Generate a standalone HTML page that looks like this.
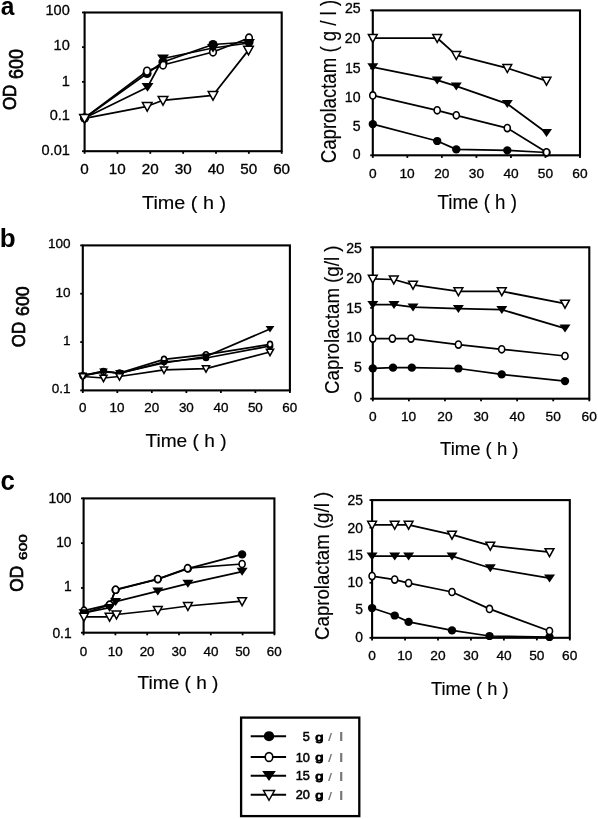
<!DOCTYPE html><html><head><meta charset="utf-8"><title>figure</title><style>html,body{margin:0;padding:0;background:#fff;overflow:hidden}svg{display:block;will-change:transform;filter:blur(0.35px)}text{font-family:"Liberation Sans",sans-serif;}</style></head><body>
<svg width="598" height="819" viewBox="0 0 598 819">
<rect width="598" height="819" fill="#fff"/>
<text transform="translate(0.78,14.85) scale(0.9546,1)" font-size="25.74" font-weight="bold" fill="#000">a</text>
<text transform="translate(-0.21,247.35) scale(0.9996,1)" font-size="26.01" font-weight="bold" fill="#000">b</text>
<text transform="translate(0.49,490.04) scale(0.9562,1)" font-size="27.01" font-weight="bold" fill="#000">c</text>
<rect x="84.60" y="12.50" width="197.10" height="138.70" fill="none" stroke="#000" stroke-width="2.1"/>
<line x1="84.60" y1="151.20" x2="84.60" y2="153.80" stroke="#000" stroke-width="1.8"/>
<text transform="translate(80.36,174.36) scale(1.0800,1)" font-size="14.12" fill="#000" stroke="#000" stroke-width="0.30">0</text>
<line x1="117.45" y1="151.20" x2="117.45" y2="153.80" stroke="#000" stroke-width="1.8"/>
<text transform="translate(108.68,174.36) scale(1.0800,1)" font-size="14.12" fill="#000" stroke="#000" stroke-width="0.30">10</text>
<line x1="150.30" y1="151.20" x2="150.30" y2="153.80" stroke="#000" stroke-width="1.8"/>
<text transform="translate(141.73,174.36) scale(1.0800,1)" font-size="14.12" fill="#000" stroke="#000" stroke-width="0.30">20</text>
<line x1="183.15" y1="151.20" x2="183.15" y2="153.80" stroke="#000" stroke-width="1.8"/>
<text transform="translate(174.67,174.36) scale(1.0800,1)" font-size="14.12" fill="#000" stroke="#000" stroke-width="0.30">30</text>
<line x1="216.00" y1="151.20" x2="216.00" y2="153.80" stroke="#000" stroke-width="1.8"/>
<text transform="translate(207.64,174.36) scale(1.0800,1)" font-size="14.12" fill="#000" stroke="#000" stroke-width="0.30">40</text>
<line x1="248.85" y1="151.20" x2="248.85" y2="153.80" stroke="#000" stroke-width="1.8"/>
<text transform="translate(240.36,174.36) scale(1.0800,1)" font-size="14.12" fill="#000" stroke="#000" stroke-width="0.30">50</text>
<line x1="281.70" y1="151.20" x2="281.70" y2="153.80" stroke="#000" stroke-width="1.8"/>
<text transform="translate(273.13,174.36) scale(1.0800,1)" font-size="14.12" fill="#000" stroke="#000" stroke-width="0.30">60</text>
<line x1="82.00" y1="12.50" x2="84.60" y2="12.50" stroke="#000" stroke-width="1.8"/>
<line x1="82.00" y1="47.17" x2="84.60" y2="47.17" stroke="#000" stroke-width="1.8"/>
<line x1="82.00" y1="81.85" x2="84.60" y2="81.85" stroke="#000" stroke-width="1.8"/>
<line x1="82.00" y1="116.52" x2="84.60" y2="116.52" stroke="#000" stroke-width="1.8"/>
<line x1="82.00" y1="151.20" x2="84.60" y2="151.20" stroke="#000" stroke-width="1.8"/>
<text transform="translate(45.50,14.86) scale(1.0000,1)" font-size="14.55" fill="#000" stroke="#000" stroke-width="0.30">100</text>
<text transform="translate(53.59,49.71) scale(1.0000,1)" font-size="14.55" fill="#000" stroke="#000" stroke-width="0.30">10</text>
<text transform="translate(61.82,86.30) scale(1.0000,1)" font-size="14.55" fill="#000" stroke="#000" stroke-width="0.30">1</text>
<text transform="translate(49.69,119.81) scale(1.0000,1)" font-size="14.55" fill="#000" stroke="#000" stroke-width="0.30">0.1</text>
<text transform="translate(41.60,155.21) scale(1.0000,1)" font-size="14.55" fill="#000" stroke="#000" stroke-width="0.30">0.01</text>
<text transform="translate(142.05,208.90) scale(1.0907,1)" font-size="18.17" font-weight="normal" fill="#000" stroke="#000" stroke-width="0.14">Time ( h )</text>
<text transform="translate(15.60,110.11) rotate(-90) scale(0.9428,1)" font-size="18.05" stroke="#000" stroke-width="0.70">OD</text>
<text transform="translate(22.90,78.91) rotate(-90) scale(0.9172,1)" font-size="19.48" stroke="#000" stroke-width="0.70">600</text>
<path d="M84.6,118.0 L147.0,73.5 L163.0,62.0 L213.0,44.5 L249.0,42.0" fill="none" stroke="#000" stroke-width="1.75" stroke-linejoin="round"/>
<ellipse cx="84.6" cy="118.0" rx="4.60" ry="4.48" fill="#000"/>
<ellipse cx="147.0" cy="73.5" rx="4.60" ry="4.48" fill="#000"/>
<ellipse cx="163.0" cy="62.0" rx="4.60" ry="4.48" fill="#000"/>
<ellipse cx="213.0" cy="44.5" rx="4.60" ry="4.48" fill="#000"/>
<ellipse cx="249.0" cy="42.0" rx="4.60" ry="4.48" fill="#000"/>
<path d="M84.6,118.0 L147.0,71.1 L163.0,65.0 L213.0,52.0 L249.0,38.0" fill="none" stroke="#000" stroke-width="1.75" stroke-linejoin="round"/>
<ellipse cx="84.6" cy="118.0" rx="3.33" ry="3.91" fill="#fff" stroke="#000" stroke-width="1.6"/>
<ellipse cx="147.0" cy="71.1" rx="3.33" ry="3.91" fill="#fff" stroke="#000" stroke-width="1.6"/>
<ellipse cx="163.0" cy="65.0" rx="3.33" ry="3.91" fill="#fff" stroke="#000" stroke-width="1.6"/>
<ellipse cx="213.0" cy="52.0" rx="3.33" ry="3.91" fill="#fff" stroke="#000" stroke-width="1.6"/>
<ellipse cx="249.0" cy="38.0" rx="3.33" ry="3.91" fill="#fff" stroke="#000" stroke-width="1.6"/>
<path d="M84.6,118.0 L147.5,87.2 L163.0,58.5 L213.0,48.0 L249.0,43.0" fill="none" stroke="#000" stroke-width="1.75" stroke-linejoin="round"/>
<path d="M78.6,113.9H90.6L84.6,122.6Z" fill="#000"/>
<path d="M141.5,83.1H153.5L147.5,91.8Z" fill="#000"/>
<path d="M157.0,54.4H169.0L163.0,63.1Z" fill="#000"/>
<path d="M207.0,43.9H219.0L213.0,52.6Z" fill="#000"/>
<path d="M243.0,38.9H255.0L249.0,47.6Z" fill="#000"/>
<path d="M84.6,118.3 L147.2,106.3 L163.0,100.3 L213.0,95.3 L248.5,50.1" fill="none" stroke="#000" stroke-width="1.75" stroke-linejoin="round"/>
<path d="M79.8,114.5H89.4L84.6,123.1Z" fill="#fff" stroke="#000" stroke-width="1.5" stroke-linejoin="miter"/>
<path d="M142.4,102.5H152.0L147.2,111.1Z" fill="#fff" stroke="#000" stroke-width="1.5" stroke-linejoin="miter"/>
<path d="M158.2,96.5H167.8L163.0,105.1Z" fill="#fff" stroke="#000" stroke-width="1.5" stroke-linejoin="miter"/>
<path d="M208.2,91.5H217.8L213.0,100.1Z" fill="#fff" stroke="#000" stroke-width="1.5" stroke-linejoin="miter"/>
<path d="M243.7,46.3H253.3L248.5,54.9Z" fill="#fff" stroke="#000" stroke-width="1.5" stroke-linejoin="miter"/>
<rect x="372.80" y="10.40" width="207.20" height="144.90" fill="none" stroke="#000" stroke-width="2.1"/>
<line x1="372.80" y1="155.30" x2="372.80" y2="157.90" stroke="#000" stroke-width="1.8"/>
<text transform="translate(368.98,178.48) scale(1.0800,1)" font-size="12.71" fill="#000" stroke="#000" stroke-width="0.30">0</text>
<line x1="407.33" y1="155.30" x2="407.33" y2="157.90" stroke="#000" stroke-width="1.8"/>
<text transform="translate(399.44,178.48) scale(1.0800,1)" font-size="12.71" fill="#000" stroke="#000" stroke-width="0.30">10</text>
<line x1="441.87" y1="155.30" x2="441.87" y2="157.90" stroke="#000" stroke-width="1.8"/>
<text transform="translate(434.15,178.48) scale(1.0800,1)" font-size="12.71" fill="#000" stroke="#000" stroke-width="0.30">20</text>
<line x1="476.40" y1="155.30" x2="476.40" y2="157.90" stroke="#000" stroke-width="1.8"/>
<text transform="translate(468.77,178.48) scale(1.0800,1)" font-size="12.71" fill="#000" stroke="#000" stroke-width="0.30">30</text>
<line x1="510.93" y1="155.30" x2="510.93" y2="157.90" stroke="#000" stroke-width="1.8"/>
<text transform="translate(503.41,178.48) scale(1.0800,1)" font-size="12.71" fill="#000" stroke="#000" stroke-width="0.30">40</text>
<line x1="545.47" y1="155.30" x2="545.47" y2="157.90" stroke="#000" stroke-width="1.8"/>
<text transform="translate(537.82,178.48) scale(1.0800,1)" font-size="12.71" fill="#000" stroke="#000" stroke-width="0.30">50</text>
<line x1="580.00" y1="155.30" x2="580.00" y2="157.90" stroke="#000" stroke-width="1.8"/>
<text transform="translate(572.28,178.48) scale(1.0800,1)" font-size="12.71" fill="#000" stroke="#000" stroke-width="0.30">60</text>
<line x1="370.20" y1="155.30" x2="372.80" y2="155.30" stroke="#000" stroke-width="1.8"/>
<line x1="370.20" y1="126.32" x2="372.80" y2="126.32" stroke="#000" stroke-width="1.8"/>
<line x1="370.20" y1="97.34" x2="372.80" y2="97.34" stroke="#000" stroke-width="1.8"/>
<line x1="370.20" y1="68.36" x2="372.80" y2="68.36" stroke="#000" stroke-width="1.8"/>
<line x1="370.20" y1="39.38" x2="372.80" y2="39.38" stroke="#000" stroke-width="1.8"/>
<line x1="370.20" y1="10.40" x2="372.80" y2="10.40" stroke="#000" stroke-width="1.8"/>
<text transform="translate(352.70,159.06) scale(1.0000,1)" font-size="14.12" fill="#000" stroke="#000" stroke-width="0.30">0</text>
<text transform="translate(352.74,131.09) scale(1.0000,1)" font-size="14.12" fill="#000" stroke="#000" stroke-width="0.30">5</text>
<text transform="translate(344.84,101.86) scale(1.0000,1)" font-size="14.12" fill="#000" stroke="#000" stroke-width="0.30">10</text>
<text transform="translate(344.88,72.59) scale(1.0000,1)" font-size="14.12" fill="#000" stroke="#000" stroke-width="0.30">15</text>
<text transform="translate(344.84,43.36) scale(1.0000,1)" font-size="14.12" fill="#000" stroke="#000" stroke-width="0.30">20</text>
<text transform="translate(344.88,13.16) scale(1.0000,1)" font-size="14.12" fill="#000" stroke="#000" stroke-width="0.30">25</text>
<text transform="translate(437.58,209.00) scale(0.9540,1)" font-size="19.62" font-weight="normal" fill="#000" stroke="#000" stroke-width="0.16">Time ( h )</text>
<text transform="translate(336.30,163.25) rotate(-90) scale(0.8780,1)" font-size="21.20" stroke="#000" stroke-width="0.15">Caprolactam ( g / l )</text>
<path d="M372.8,124.1 L437.2,141.0 L456.3,149.4 L507.3,150.3 L546.5,152.5" fill="none" stroke="#000" stroke-width="1.75" stroke-linejoin="round"/>
<ellipse cx="372.8" cy="124.1" rx="4.20" ry="4.09" fill="#000"/>
<ellipse cx="437.2" cy="141.0" rx="4.20" ry="4.09" fill="#000"/>
<ellipse cx="456.3" cy="149.4" rx="4.20" ry="4.09" fill="#000"/>
<ellipse cx="507.3" cy="150.3" rx="4.20" ry="4.09" fill="#000"/>
<ellipse cx="546.5" cy="152.5" rx="4.20" ry="4.09" fill="#000"/>
<path d="M372.8,95.4 L437.2,110.3 L456.3,115.3 L507.3,128.1 L546.5,152.3" fill="none" stroke="#000" stroke-width="1.75" stroke-linejoin="round"/>
<ellipse cx="372.8" cy="95.4" rx="3.04" ry="3.57" fill="#fff" stroke="#000" stroke-width="1.6"/>
<ellipse cx="437.2" cy="110.3" rx="3.04" ry="3.57" fill="#fff" stroke="#000" stroke-width="1.6"/>
<ellipse cx="456.3" cy="115.3" rx="3.04" ry="3.57" fill="#fff" stroke="#000" stroke-width="1.6"/>
<ellipse cx="507.3" cy="128.1" rx="3.04" ry="3.57" fill="#fff" stroke="#000" stroke-width="1.6"/>
<ellipse cx="546.5" cy="152.3" rx="3.04" ry="3.57" fill="#fff" stroke="#000" stroke-width="1.6"/>
<path d="M372.8,67.1 L437.2,80.2 L456.3,86.2 L507.3,103.9 L546.5,132.7" fill="none" stroke="#000" stroke-width="1.75" stroke-linejoin="round"/>
<path d="M367.3,63.3H378.3L372.8,71.3Z" fill="#000"/>
<path d="M431.7,76.4H442.7L437.2,84.4Z" fill="#000"/>
<path d="M450.8,82.4H461.8L456.3,90.4Z" fill="#000"/>
<path d="M501.8,100.1H512.8L507.3,108.1Z" fill="#000"/>
<path d="M541.0,128.9H552.0L546.5,136.9Z" fill="#000"/>
<path d="M372.8,38.0 L437.2,38.0 L456.3,55.1 L507.3,68.1 L546.5,80.8" fill="none" stroke="#000" stroke-width="1.75" stroke-linejoin="round"/>
<path d="M368.4,34.5H377.2L372.8,42.4Z" fill="#fff" stroke="#000" stroke-width="1.5" stroke-linejoin="miter"/>
<path d="M432.8,34.5H441.6L437.2,42.4Z" fill="#fff" stroke="#000" stroke-width="1.5" stroke-linejoin="miter"/>
<path d="M451.9,51.6H460.7L456.3,59.5Z" fill="#fff" stroke="#000" stroke-width="1.5" stroke-linejoin="miter"/>
<path d="M502.9,64.6H511.7L507.3,72.5Z" fill="#fff" stroke="#000" stroke-width="1.5" stroke-linejoin="miter"/>
<path d="M542.1,77.3H550.9L546.5,85.2Z" fill="#fff" stroke="#000" stroke-width="1.5" stroke-linejoin="miter"/>
<rect x="82.80" y="245.40" width="207.10" height="145.00" fill="none" stroke="#000" stroke-width="2.1"/>
<line x1="82.80" y1="390.40" x2="82.80" y2="393.00" stroke="#000" stroke-width="1.8"/>
<text transform="translate(79.07,411.68) scale(1.0800,1)" font-size="12.43" fill="#000" stroke="#000" stroke-width="0.30">0</text>
<line x1="117.32" y1="390.40" x2="117.32" y2="393.00" stroke="#000" stroke-width="1.8"/>
<text transform="translate(109.60,411.68) scale(1.0800,1)" font-size="12.43" fill="#000" stroke="#000" stroke-width="0.30">10</text>
<line x1="151.83" y1="390.40" x2="151.83" y2="393.00" stroke="#000" stroke-width="1.8"/>
<text transform="translate(144.29,411.68) scale(1.0800,1)" font-size="12.43" fill="#000" stroke="#000" stroke-width="0.30">20</text>
<line x1="186.35" y1="390.40" x2="186.35" y2="393.00" stroke="#000" stroke-width="1.8"/>
<text transform="translate(178.89,411.68) scale(1.0800,1)" font-size="12.43" fill="#000" stroke="#000" stroke-width="0.30">30</text>
<line x1="220.87" y1="390.40" x2="220.87" y2="393.00" stroke="#000" stroke-width="1.8"/>
<text transform="translate(213.51,411.68) scale(1.0800,1)" font-size="12.43" fill="#000" stroke="#000" stroke-width="0.30">40</text>
<line x1="255.38" y1="390.40" x2="255.38" y2="393.00" stroke="#000" stroke-width="1.8"/>
<text transform="translate(247.91,411.68) scale(1.0800,1)" font-size="12.43" fill="#000" stroke="#000" stroke-width="0.30">50</text>
<line x1="289.90" y1="390.40" x2="289.90" y2="393.00" stroke="#000" stroke-width="1.8"/>
<text transform="translate(282.36,411.68) scale(1.0800,1)" font-size="12.43" fill="#000" stroke="#000" stroke-width="0.30">60</text>
<line x1="80.20" y1="245.40" x2="82.80" y2="245.40" stroke="#000" stroke-width="1.8"/>
<line x1="80.20" y1="293.73" x2="82.80" y2="293.73" stroke="#000" stroke-width="1.8"/>
<line x1="80.20" y1="342.07" x2="82.80" y2="342.07" stroke="#000" stroke-width="1.8"/>
<line x1="80.20" y1="390.40" x2="82.80" y2="390.40" stroke="#000" stroke-width="1.8"/>
<text transform="translate(47.91,248.07) scale(1.0000,1)" font-size="13.56" fill="#000" stroke="#000" stroke-width="0.30">100</text>
<text transform="translate(55.45,296.57) scale(1.0000,1)" font-size="13.56" fill="#000" stroke="#000" stroke-width="0.30">10</text>
<text transform="translate(63.12,345.16) scale(1.0000,1)" font-size="13.56" fill="#000" stroke="#000" stroke-width="0.30">1</text>
<text transform="translate(51.81,393.07) scale(1.0000,1)" font-size="13.56" fill="#000" stroke="#000" stroke-width="0.30">0.1</text>
<text transform="translate(145.47,446.80) scale(1.0200,1)" font-size="18.75" font-weight="normal" fill="#000" stroke="#000" stroke-width="0.15">Time ( h )</text>
<text transform="translate(25.30,347.20) rotate(-90) scale(0.8857,1)" font-size="19.05" stroke="#000" stroke-width="0.70">OD</text>
<text transform="translate(29.20,316.00) rotate(-90) scale(0.9275,1)" font-size="19.19" stroke="#000" stroke-width="0.70">600</text>
<path d="M82.8,375.7 L103.5,371.0 L119.5,373.3 L164.0,362.0 L206.0,358.0 L270.0,346.0" fill="none" stroke="#000" stroke-width="1.75" stroke-linejoin="round"/>
<ellipse cx="82.8" cy="375.7" rx="3.40" ry="3.31" fill="#000"/>
<ellipse cx="103.5" cy="371.0" rx="3.40" ry="3.31" fill="#000"/>
<ellipse cx="119.5" cy="373.3" rx="3.40" ry="3.31" fill="#000"/>
<ellipse cx="164.0" cy="362.0" rx="3.40" ry="3.31" fill="#000"/>
<ellipse cx="206.0" cy="358.0" rx="3.40" ry="3.31" fill="#000"/>
<ellipse cx="270.0" cy="346.0" rx="3.40" ry="3.31" fill="#000"/>
<path d="M82.8,375.7 L103.5,372.0 L119.5,373.0 L164.0,359.3 L206.0,354.6 L270.0,344.3" fill="none" stroke="#000" stroke-width="1.75" stroke-linejoin="round"/>
<ellipse cx="82.8" cy="375.7" rx="2.46" ry="2.89" fill="#fff" stroke="#000" stroke-width="1.6"/>
<ellipse cx="103.5" cy="372.0" rx="2.46" ry="2.89" fill="#fff" stroke="#000" stroke-width="1.6"/>
<ellipse cx="119.5" cy="373.0" rx="2.46" ry="2.89" fill="#fff" stroke="#000" stroke-width="1.6"/>
<ellipse cx="164.0" cy="359.3" rx="2.46" ry="2.89" fill="#fff" stroke="#000" stroke-width="1.6"/>
<ellipse cx="206.0" cy="354.6" rx="2.46" ry="2.89" fill="#fff" stroke="#000" stroke-width="1.6"/>
<ellipse cx="270.0" cy="344.3" rx="2.46" ry="2.89" fill="#fff" stroke="#000" stroke-width="1.6"/>
<path d="M82.8,375.7 L103.5,371.5 L119.5,373.0 L164.0,363.0 L206.0,356.5 L270.0,329.0" fill="none" stroke="#000" stroke-width="1.75" stroke-linejoin="round"/>
<path d="M78.4,372.6H87.2L82.8,379.1Z" fill="#000"/>
<path d="M99.1,368.4H107.9L103.5,374.9Z" fill="#000"/>
<path d="M115.1,369.9H123.9L119.5,376.4Z" fill="#000"/>
<path d="M159.6,359.9H168.4L164.0,366.4Z" fill="#000"/>
<path d="M201.6,353.4H210.4L206.0,359.9Z" fill="#000"/>
<path d="M265.6,325.9H274.4L270.0,332.4Z" fill="#000"/>
<path d="M82.8,376.5 L103.5,378.0 L119.5,376.5 L164.0,369.8 L206.0,368.6 L270.0,352.0" fill="none" stroke="#000" stroke-width="1.75" stroke-linejoin="round"/>
<path d="M79.2,373.7H86.4L82.8,380.1Z" fill="#fff" stroke="#000" stroke-width="1.5" stroke-linejoin="miter"/>
<path d="M99.9,375.2H107.1L103.5,381.6Z" fill="#fff" stroke="#000" stroke-width="1.5" stroke-linejoin="miter"/>
<path d="M115.9,373.7H123.1L119.5,380.1Z" fill="#fff" stroke="#000" stroke-width="1.5" stroke-linejoin="miter"/>
<path d="M160.4,367.0H167.6L164.0,373.4Z" fill="#fff" stroke="#000" stroke-width="1.5" stroke-linejoin="miter"/>
<path d="M202.4,365.8H209.6L206.0,372.2Z" fill="#fff" stroke="#000" stroke-width="1.5" stroke-linejoin="miter"/>
<path d="M266.4,349.2H273.6L270.0,355.6Z" fill="#fff" stroke="#000" stroke-width="1.5" stroke-linejoin="miter"/>
<rect x="372.80" y="247.30" width="216.50" height="151.40" fill="none" stroke="#000" stroke-width="2.1"/>
<line x1="372.80" y1="398.70" x2="372.80" y2="401.30" stroke="#000" stroke-width="1.8"/>
<text transform="translate(368.98,421.48) scale(1.0800,1)" font-size="12.71" fill="#000" stroke="#000" stroke-width="0.30">0</text>
<line x1="408.88" y1="398.70" x2="408.88" y2="401.30" stroke="#000" stroke-width="1.8"/>
<text transform="translate(400.99,421.48) scale(1.0800,1)" font-size="12.71" fill="#000" stroke="#000" stroke-width="0.30">10</text>
<line x1="444.97" y1="398.70" x2="444.97" y2="401.30" stroke="#000" stroke-width="1.8"/>
<text transform="translate(437.25,421.48) scale(1.0800,1)" font-size="12.71" fill="#000" stroke="#000" stroke-width="0.30">20</text>
<line x1="481.05" y1="398.70" x2="481.05" y2="401.30" stroke="#000" stroke-width="1.8"/>
<text transform="translate(473.42,421.48) scale(1.0800,1)" font-size="12.71" fill="#000" stroke="#000" stroke-width="0.30">30</text>
<line x1="517.13" y1="398.70" x2="517.13" y2="401.30" stroke="#000" stroke-width="1.8"/>
<text transform="translate(509.61,421.48) scale(1.0800,1)" font-size="12.71" fill="#000" stroke="#000" stroke-width="0.30">40</text>
<line x1="553.22" y1="398.70" x2="553.22" y2="401.30" stroke="#000" stroke-width="1.8"/>
<text transform="translate(545.57,421.48) scale(1.0800,1)" font-size="12.71" fill="#000" stroke="#000" stroke-width="0.30">50</text>
<line x1="589.30" y1="398.70" x2="589.30" y2="401.30" stroke="#000" stroke-width="1.8"/>
<text transform="translate(581.58,421.48) scale(1.0800,1)" font-size="12.71" fill="#000" stroke="#000" stroke-width="0.30">60</text>
<line x1="370.20" y1="398.70" x2="372.80" y2="398.70" stroke="#000" stroke-width="1.8"/>
<line x1="370.20" y1="368.42" x2="372.80" y2="368.42" stroke="#000" stroke-width="1.8"/>
<line x1="370.20" y1="338.14" x2="372.80" y2="338.14" stroke="#000" stroke-width="1.8"/>
<line x1="370.20" y1="307.86" x2="372.80" y2="307.86" stroke="#000" stroke-width="1.8"/>
<line x1="370.20" y1="277.58" x2="372.80" y2="277.58" stroke="#000" stroke-width="1.8"/>
<line x1="370.20" y1="247.30" x2="372.80" y2="247.30" stroke="#000" stroke-width="1.8"/>
<text transform="translate(354.00,402.36) scale(1.0000,1)" font-size="14.12" fill="#000" stroke="#000" stroke-width="0.30">0</text>
<text transform="translate(354.04,372.29) scale(1.0000,1)" font-size="14.12" fill="#000" stroke="#000" stroke-width="0.30">5</text>
<text transform="translate(346.14,342.26) scale(1.0000,1)" font-size="14.12" fill="#000" stroke="#000" stroke-width="0.30">10</text>
<text transform="translate(346.18,312.69) scale(1.0000,1)" font-size="14.12" fill="#000" stroke="#000" stroke-width="0.30">15</text>
<text transform="translate(346.14,282.76) scale(1.0000,1)" font-size="14.12" fill="#000" stroke="#000" stroke-width="0.30">20</text>
<text transform="translate(346.18,253.16) scale(1.0000,1)" font-size="14.12" fill="#000" stroke="#000" stroke-width="0.30">25</text>
<text transform="translate(440.08,455.40) scale(0.9869,1)" font-size="18.75" font-weight="normal" fill="#000" stroke="#000" stroke-width="0.15">Time ( h )</text>
<text transform="translate(338.60,393.95) rotate(-90) scale(0.9261,1)" font-size="20.19" stroke="#000" stroke-width="0.15">Caprolactam (g/l )</text>
<path d="M372.8,368.3 L393.0,367.7 L411.8,367.7 L458.4,368.5 L501.7,374.4 L565.0,381.1" fill="none" stroke="#000" stroke-width="1.75" stroke-linejoin="round"/>
<ellipse cx="372.8" cy="368.3" rx="4.20" ry="4.09" fill="#000"/>
<ellipse cx="393.0" cy="367.7" rx="4.20" ry="4.09" fill="#000"/>
<ellipse cx="411.8" cy="367.7" rx="4.20" ry="4.09" fill="#000"/>
<ellipse cx="458.4" cy="368.5" rx="4.20" ry="4.09" fill="#000"/>
<ellipse cx="501.7" cy="374.4" rx="4.20" ry="4.09" fill="#000"/>
<ellipse cx="565.0" cy="381.1" rx="4.20" ry="4.09" fill="#000"/>
<path d="M372.8,338.6 L392.4,338.6 L411.0,338.6 L458.4,344.6 L501.7,349.3 L565.0,356.0" fill="none" stroke="#000" stroke-width="1.75" stroke-linejoin="round"/>
<ellipse cx="372.8" cy="338.6" rx="3.04" ry="3.57" fill="#fff" stroke="#000" stroke-width="1.6"/>
<ellipse cx="392.4" cy="338.6" rx="3.04" ry="3.57" fill="#fff" stroke="#000" stroke-width="1.6"/>
<ellipse cx="411.0" cy="338.6" rx="3.04" ry="3.57" fill="#fff" stroke="#000" stroke-width="1.6"/>
<ellipse cx="458.4" cy="344.6" rx="3.04" ry="3.57" fill="#fff" stroke="#000" stroke-width="1.6"/>
<ellipse cx="501.7" cy="349.3" rx="3.04" ry="3.57" fill="#fff" stroke="#000" stroke-width="1.6"/>
<ellipse cx="565.0" cy="356.0" rx="3.04" ry="3.57" fill="#fff" stroke="#000" stroke-width="1.6"/>
<path d="M372.8,304.7 L394.0,304.7 L413.0,307.2 L458.4,308.7 L501.8,309.7 L565.0,328.4" fill="none" stroke="#000" stroke-width="1.75" stroke-linejoin="round"/>
<path d="M367.3,300.9H378.3L372.8,308.9Z" fill="#000"/>
<path d="M388.5,300.9H399.5L394.0,308.9Z" fill="#000"/>
<path d="M407.5,303.4H418.5L413.0,311.4Z" fill="#000"/>
<path d="M452.9,304.9H463.9L458.4,312.9Z" fill="#000"/>
<path d="M496.3,305.9H507.3L501.8,313.9Z" fill="#000"/>
<path d="M559.5,324.6H570.5L565.0,332.6Z" fill="#000"/>
<path d="M372.8,278.8 L393.8,279.5 L413.0,284.8 L458.4,291.3 L501.8,291.3 L565.0,303.7" fill="none" stroke="#000" stroke-width="1.75" stroke-linejoin="round"/>
<path d="M368.4,275.3H377.2L372.8,283.2Z" fill="#fff" stroke="#000" stroke-width="1.5" stroke-linejoin="miter"/>
<path d="M389.4,276.0H398.2L393.8,283.9Z" fill="#fff" stroke="#000" stroke-width="1.5" stroke-linejoin="miter"/>
<path d="M408.6,281.3H417.4L413.0,289.2Z" fill="#fff" stroke="#000" stroke-width="1.5" stroke-linejoin="miter"/>
<path d="M454.0,287.8H462.8L458.4,295.7Z" fill="#fff" stroke="#000" stroke-width="1.5" stroke-linejoin="miter"/>
<path d="M497.4,287.8H506.2L501.8,295.7Z" fill="#fff" stroke="#000" stroke-width="1.5" stroke-linejoin="miter"/>
<path d="M560.6,300.2H569.4L565.0,308.1Z" fill="#fff" stroke="#000" stroke-width="1.5" stroke-linejoin="miter"/>
<rect x="83.60" y="498.40" width="190.80" height="134.30" fill="none" stroke="#000" stroke-width="2.1"/>
<line x1="83.60" y1="632.70" x2="83.60" y2="635.30" stroke="#000" stroke-width="1.8"/>
<text transform="translate(79.87,655.58) scale(1.0800,1)" font-size="12.43" fill="#000" stroke="#000" stroke-width="0.30">0</text>
<line x1="115.40" y1="632.70" x2="115.40" y2="635.30" stroke="#000" stroke-width="1.8"/>
<text transform="translate(107.69,655.58) scale(1.0800,1)" font-size="12.43" fill="#000" stroke="#000" stroke-width="0.30">10</text>
<line x1="147.20" y1="632.70" x2="147.20" y2="635.30" stroke="#000" stroke-width="1.8"/>
<text transform="translate(139.66,655.58) scale(1.0800,1)" font-size="12.43" fill="#000" stroke="#000" stroke-width="0.30">20</text>
<line x1="179.00" y1="632.70" x2="179.00" y2="635.30" stroke="#000" stroke-width="1.8"/>
<text transform="translate(171.54,655.58) scale(1.0800,1)" font-size="12.43" fill="#000" stroke="#000" stroke-width="0.30">30</text>
<line x1="210.80" y1="632.70" x2="210.80" y2="635.30" stroke="#000" stroke-width="1.8"/>
<text transform="translate(203.44,655.58) scale(1.0800,1)" font-size="12.43" fill="#000" stroke="#000" stroke-width="0.30">40</text>
<line x1="242.60" y1="632.70" x2="242.60" y2="635.30" stroke="#000" stroke-width="1.8"/>
<text transform="translate(235.13,655.58) scale(1.0800,1)" font-size="12.43" fill="#000" stroke="#000" stroke-width="0.30">50</text>
<line x1="274.40" y1="632.70" x2="274.40" y2="635.30" stroke="#000" stroke-width="1.8"/>
<text transform="translate(266.86,655.58) scale(1.0800,1)" font-size="12.43" fill="#000" stroke="#000" stroke-width="0.30">60</text>
<line x1="81.00" y1="498.40" x2="83.60" y2="498.40" stroke="#000" stroke-width="1.8"/>
<line x1="81.00" y1="543.17" x2="83.60" y2="543.17" stroke="#000" stroke-width="1.8"/>
<line x1="81.00" y1="587.93" x2="83.60" y2="587.93" stroke="#000" stroke-width="1.8"/>
<line x1="81.00" y1="632.70" x2="83.60" y2="632.70" stroke="#000" stroke-width="1.8"/>
<text transform="translate(48.45,503.16) scale(1.0000,1)" font-size="13.84" fill="#000" stroke="#000" stroke-width="0.30">100</text>
<text transform="translate(56.14,547.06) scale(1.0000,1)" font-size="13.84" fill="#000" stroke="#000" stroke-width="0.30">10</text>
<text transform="translate(63.98,591.26) scale(1.0000,1)" font-size="13.84" fill="#000" stroke="#000" stroke-width="0.30">1</text>
<text transform="translate(52.43,637.66) scale(1.0000,1)" font-size="13.84" fill="#000" stroke="#000" stroke-width="0.30">0.1</text>
<text transform="translate(137.57,689.20) scale(1.0267,1)" font-size="18.60" font-weight="normal" fill="#000" stroke="#000" stroke-width="0.15">Time ( h )</text>
<text transform="translate(23.10,591.72) rotate(-90) scale(0.9859,1)" font-size="17.47" stroke="#000" stroke-width="0.70">OD</text>
<text transform="translate(27.00,559.88) rotate(-90) scale(1.3435,1)" font-size="11.46" stroke="#000" stroke-width="0.60">600</text>
<path d="M84.0,613.0 L109.6,605.0 L115.6,590.0 L157.8,579.1 L187.9,568.6 L242.1,554.4" fill="none" stroke="#000" stroke-width="1.75" stroke-linejoin="round"/>
<ellipse cx="84.0" cy="613.0" rx="4.20" ry="4.09" fill="#000"/>
<ellipse cx="109.6" cy="605.0" rx="4.20" ry="4.09" fill="#000"/>
<ellipse cx="115.6" cy="590.0" rx="4.20" ry="4.09" fill="#000"/>
<ellipse cx="157.8" cy="579.1" rx="4.20" ry="4.09" fill="#000"/>
<ellipse cx="187.9" cy="568.6" rx="4.20" ry="4.09" fill="#000"/>
<ellipse cx="242.1" cy="554.4" rx="4.20" ry="4.09" fill="#000"/>
<path d="M84.0,610.7 L109.6,604.7 L115.6,589.7 L157.8,579.1 L187.6,568.2 L242.1,564.0" fill="none" stroke="#000" stroke-width="1.75" stroke-linejoin="round"/>
<ellipse cx="84.0" cy="610.7" rx="3.04" ry="3.57" fill="#fff" stroke="#000" stroke-width="1.6"/>
<ellipse cx="109.6" cy="604.7" rx="3.04" ry="3.57" fill="#fff" stroke="#000" stroke-width="1.6"/>
<ellipse cx="115.6" cy="589.7" rx="3.04" ry="3.57" fill="#fff" stroke="#000" stroke-width="1.6"/>
<ellipse cx="157.8" cy="579.1" rx="3.04" ry="3.57" fill="#fff" stroke="#000" stroke-width="1.6"/>
<ellipse cx="187.6" cy="568.2" rx="3.04" ry="3.57" fill="#fff" stroke="#000" stroke-width="1.6"/>
<ellipse cx="242.1" cy="564.0" rx="3.04" ry="3.57" fill="#fff" stroke="#000" stroke-width="1.6"/>
<path d="M84.0,613.0 L109.6,607.7 L115.6,601.7 L157.8,591.2 L187.9,583.6 L242.1,571.6" fill="none" stroke="#000" stroke-width="1.75" stroke-linejoin="round"/>
<path d="M78.5,609.2H89.5L84.0,617.2Z" fill="#000"/>
<path d="M104.1,603.9H115.1L109.6,611.9Z" fill="#000"/>
<path d="M110.1,597.9H121.1L115.6,605.9Z" fill="#000"/>
<path d="M152.3,587.4H163.3L157.8,595.4Z" fill="#000"/>
<path d="M182.4,579.8H193.4L187.9,587.8Z" fill="#000"/>
<path d="M236.6,567.8H247.6L242.1,575.8Z" fill="#000"/>
<path d="M84.0,616.8 L109.6,616.8 L116.5,614.5 L157.8,610.0 L187.9,606.0 L242.1,601.2" fill="none" stroke="#000" stroke-width="1.75" stroke-linejoin="round"/>
<path d="M79.6,613.3H88.4L84.0,621.2Z" fill="#fff" stroke="#000" stroke-width="1.5" stroke-linejoin="miter"/>
<path d="M105.2,613.3H114.0L109.6,621.2Z" fill="#fff" stroke="#000" stroke-width="1.5" stroke-linejoin="miter"/>
<path d="M112.1,611.0H120.9L116.5,618.9Z" fill="#fff" stroke="#000" stroke-width="1.5" stroke-linejoin="miter"/>
<path d="M153.4,606.5H162.2L157.8,614.4Z" fill="#fff" stroke="#000" stroke-width="1.5" stroke-linejoin="miter"/>
<path d="M183.5,602.5H192.3L187.9,610.4Z" fill="#fff" stroke="#000" stroke-width="1.5" stroke-linejoin="miter"/>
<path d="M237.7,597.7H246.5L242.1,605.6Z" fill="#fff" stroke="#000" stroke-width="1.5" stroke-linejoin="miter"/>
<rect x="372.10" y="500.10" width="197.70" height="137.70" fill="none" stroke="#000" stroke-width="2.1"/>
<line x1="372.10" y1="637.80" x2="372.10" y2="640.40" stroke="#000" stroke-width="1.8"/>
<text transform="translate(368.28,660.48) scale(1.0800,1)" font-size="12.71" fill="#000" stroke="#000" stroke-width="0.30">0</text>
<line x1="405.05" y1="637.80" x2="405.05" y2="640.40" stroke="#000" stroke-width="1.8"/>
<text transform="translate(397.16,660.48) scale(1.0800,1)" font-size="12.71" fill="#000" stroke="#000" stroke-width="0.30">10</text>
<line x1="438.00" y1="637.80" x2="438.00" y2="640.40" stroke="#000" stroke-width="1.8"/>
<text transform="translate(430.29,660.48) scale(1.0800,1)" font-size="12.71" fill="#000" stroke="#000" stroke-width="0.30">20</text>
<line x1="470.95" y1="637.80" x2="470.95" y2="640.40" stroke="#000" stroke-width="1.8"/>
<text transform="translate(463.32,660.48) scale(1.0800,1)" font-size="12.71" fill="#000" stroke="#000" stroke-width="0.30">30</text>
<line x1="503.90" y1="637.80" x2="503.90" y2="640.40" stroke="#000" stroke-width="1.8"/>
<text transform="translate(496.38,660.48) scale(1.0800,1)" font-size="12.71" fill="#000" stroke="#000" stroke-width="0.30">40</text>
<line x1="536.85" y1="637.80" x2="536.85" y2="640.40" stroke="#000" stroke-width="1.8"/>
<text transform="translate(529.21,660.48) scale(1.0800,1)" font-size="12.71" fill="#000" stroke="#000" stroke-width="0.30">50</text>
<line x1="569.80" y1="637.80" x2="569.80" y2="640.40" stroke="#000" stroke-width="1.8"/>
<text transform="translate(562.08,660.48) scale(1.0800,1)" font-size="12.71" fill="#000" stroke="#000" stroke-width="0.30">60</text>
<line x1="369.50" y1="637.80" x2="372.10" y2="637.80" stroke="#000" stroke-width="1.8"/>
<line x1="369.50" y1="610.26" x2="372.10" y2="610.26" stroke="#000" stroke-width="1.8"/>
<line x1="369.50" y1="582.72" x2="372.10" y2="582.72" stroke="#000" stroke-width="1.8"/>
<line x1="369.50" y1="555.18" x2="372.10" y2="555.18" stroke="#000" stroke-width="1.8"/>
<line x1="369.50" y1="527.64" x2="372.10" y2="527.64" stroke="#000" stroke-width="1.8"/>
<line x1="369.50" y1="500.10" x2="372.10" y2="500.10" stroke="#000" stroke-width="1.8"/>
<text transform="translate(355.14,641.96) scale(1.0000,1)" font-size="13.84" fill="#000" stroke="#000" stroke-width="0.30">0</text>
<text transform="translate(355.18,613.89) scale(1.0000,1)" font-size="13.84" fill="#000" stroke="#000" stroke-width="0.30">5</text>
<text transform="translate(347.44,586.96) scale(1.0000,1)" font-size="13.84" fill="#000" stroke="#000" stroke-width="0.30">10</text>
<text transform="translate(347.48,559.99) scale(1.0000,1)" font-size="13.84" fill="#000" stroke="#000" stroke-width="0.30">15</text>
<text transform="translate(347.44,532.66) scale(1.0000,1)" font-size="13.84" fill="#000" stroke="#000" stroke-width="0.30">20</text>
<text transform="translate(347.48,505.06) scale(1.0000,1)" font-size="13.84" fill="#000" stroke="#000" stroke-width="0.30">25</text>
<text transform="translate(430.99,695.10) scale(0.9755,1)" font-size="18.75" font-weight="normal" fill="#000" stroke="#000" stroke-width="0.15">Time ( h )</text>
<text transform="translate(329.00,639.95) rotate(-90) scale(0.9436,1)" font-size="19.76" stroke="#000" stroke-width="0.15">Caprolactam (g/l )</text>
<path d="M372.1,608.0 L394.7,615.5 L408.6,621.9 L452.0,630.4 L489.5,636.0 L549.5,637.0" fill="none" stroke="#000" stroke-width="1.75" stroke-linejoin="round"/>
<ellipse cx="372.1" cy="608.0" rx="4.20" ry="4.09" fill="#000"/>
<ellipse cx="394.7" cy="615.5" rx="4.20" ry="4.09" fill="#000"/>
<ellipse cx="408.6" cy="621.9" rx="4.20" ry="4.09" fill="#000"/>
<ellipse cx="452.0" cy="630.4" rx="4.20" ry="4.09" fill="#000"/>
<ellipse cx="489.5" cy="636.0" rx="4.20" ry="4.09" fill="#000"/>
<ellipse cx="549.5" cy="637.0" rx="4.20" ry="4.09" fill="#000"/>
<path d="M372.1,576.1 L394.7,579.6 L408.6,583.1 L452.0,592.0 L489.5,608.9 L549.5,631.0" fill="none" stroke="#000" stroke-width="1.75" stroke-linejoin="round"/>
<ellipse cx="372.1" cy="576.1" rx="3.04" ry="3.57" fill="#fff" stroke="#000" stroke-width="1.6"/>
<ellipse cx="394.7" cy="579.6" rx="3.04" ry="3.57" fill="#fff" stroke="#000" stroke-width="1.6"/>
<ellipse cx="408.6" cy="583.1" rx="3.04" ry="3.57" fill="#fff" stroke="#000" stroke-width="1.6"/>
<ellipse cx="452.0" cy="592.0" rx="3.04" ry="3.57" fill="#fff" stroke="#000" stroke-width="1.6"/>
<ellipse cx="489.5" cy="608.9" rx="3.04" ry="3.57" fill="#fff" stroke="#000" stroke-width="1.6"/>
<ellipse cx="549.5" cy="631.0" rx="3.04" ry="3.57" fill="#fff" stroke="#000" stroke-width="1.6"/>
<path d="M372.1,556.2 L394.7,556.2 L408.6,556.2 L452.0,556.2 L490.3,568.0 L549.5,578.2" fill="none" stroke="#000" stroke-width="1.75" stroke-linejoin="round"/>
<path d="M366.6,552.4H377.6L372.1,560.4Z" fill="#000"/>
<path d="M389.2,552.4H400.2L394.7,560.4Z" fill="#000"/>
<path d="M403.1,552.4H414.1L408.6,560.4Z" fill="#000"/>
<path d="M446.5,552.4H457.5L452.0,560.4Z" fill="#000"/>
<path d="M484.8,564.2H495.8L490.3,572.2Z" fill="#000"/>
<path d="M544.0,574.4H555.0L549.5,582.4Z" fill="#000"/>
<path d="M372.1,524.8 L394.7,524.8 L408.6,524.8 L452.0,534.7 L490.3,545.7 L549.5,552.2" fill="none" stroke="#000" stroke-width="1.75" stroke-linejoin="round"/>
<path d="M367.7,521.3H376.5L372.1,529.2Z" fill="#fff" stroke="#000" stroke-width="1.5" stroke-linejoin="miter"/>
<path d="M390.3,521.3H399.1L394.7,529.2Z" fill="#fff" stroke="#000" stroke-width="1.5" stroke-linejoin="miter"/>
<path d="M404.2,521.3H413.0L408.6,529.2Z" fill="#fff" stroke="#000" stroke-width="1.5" stroke-linejoin="miter"/>
<path d="M447.6,531.2H456.4L452.0,539.1Z" fill="#fff" stroke="#000" stroke-width="1.5" stroke-linejoin="miter"/>
<path d="M485.9,542.2H494.7L490.3,550.1Z" fill="#fff" stroke="#000" stroke-width="1.5" stroke-linejoin="miter"/>
<path d="M545.1,548.7H553.9L549.5,556.6Z" fill="#fff" stroke="#000" stroke-width="1.5" stroke-linejoin="miter"/>
<rect x="241.10" y="717.60" width="118.20" height="98.50" fill="none" stroke="#000" stroke-width="2.3"/>
<line x1="250.7" y1="736.2" x2="286.1" y2="736.2" stroke="#000" stroke-width="1.9"/>
<ellipse cx="269.0" cy="736.2" rx="5.20" ry="5.07" fill="#000"/>
<text transform="translate(302.85,740.75) scale(0.9500,1)" font-size="13.42" fill="#000" stroke="#000" stroke-width="0.55">5</text>
<text transform="translate(315.19,740.65) scale(1.3000,1)" font-size="11.27" fill="#000" stroke="#000" stroke-width="0.90">g</text>
<text transform="translate(328.31,741.24) scale(1.2000,1)" font-size="10.73" fill="#666" stroke="#666" stroke-width="0.20">/</text>
<text transform="translate(338.71,741.06) scale(1.6000,1)" font-size="13.42" fill="#777" stroke="#777" stroke-width="0.20">l</text>
<line x1="250.7" y1="757.0" x2="286.1" y2="757.0" stroke="#000" stroke-width="1.9"/>
<ellipse cx="269.0" cy="757.0" rx="3.77" ry="4.42" fill="#fff" stroke="#000" stroke-width="1.6"/>
<text transform="translate(295.72,761.62) scale(0.9500,1)" font-size="13.42" fill="#000" stroke="#000" stroke-width="0.55">10</text>
<text transform="translate(315.19,761.45) scale(1.3000,1)" font-size="11.27" fill="#000" stroke="#000" stroke-width="0.90">g</text>
<text transform="translate(328.31,762.04) scale(1.2000,1)" font-size="10.73" fill="#666" stroke="#666" stroke-width="0.20">/</text>
<text transform="translate(338.71,761.86) scale(1.6000,1)" font-size="13.42" fill="#777" stroke="#777" stroke-width="0.20">l</text>
<line x1="250.7" y1="775.8" x2="286.1" y2="775.8" stroke="#000" stroke-width="1.9"/>
<path d="M262.2,771.1H275.8L269.0,781.0Z" fill="#000"/>
<text transform="translate(295.76,780.35) scale(0.9500,1)" font-size="13.42" fill="#000" stroke="#000" stroke-width="0.55">15</text>
<text transform="translate(315.19,780.25) scale(1.3000,1)" font-size="11.27" fill="#000" stroke="#000" stroke-width="0.90">g</text>
<text transform="translate(328.31,780.84) scale(1.2000,1)" font-size="10.73" fill="#666" stroke="#666" stroke-width="0.20">/</text>
<text transform="translate(338.71,780.66) scale(1.6000,1)" font-size="13.42" fill="#777" stroke="#777" stroke-width="0.20">l</text>
<line x1="250.7" y1="794.8" x2="286.1" y2="794.8" stroke="#000" stroke-width="1.9"/>
<path d="M263.5,790.5H274.5L269.0,800.3Z" fill="#fff" stroke="#000" stroke-width="1.5" stroke-linejoin="miter"/>
<text transform="translate(295.72,799.42) scale(0.9500,1)" font-size="13.42" fill="#000" stroke="#000" stroke-width="0.55">20</text>
<text transform="translate(315.19,799.25) scale(1.3000,1)" font-size="11.27" fill="#000" stroke="#000" stroke-width="0.90">g</text>
<text transform="translate(328.31,799.84) scale(1.2000,1)" font-size="10.73" fill="#666" stroke="#666" stroke-width="0.20">/</text>
<text transform="translate(338.71,799.66) scale(1.6000,1)" font-size="13.42" fill="#777" stroke="#777" stroke-width="0.20">l</text>
</svg></body></html>
